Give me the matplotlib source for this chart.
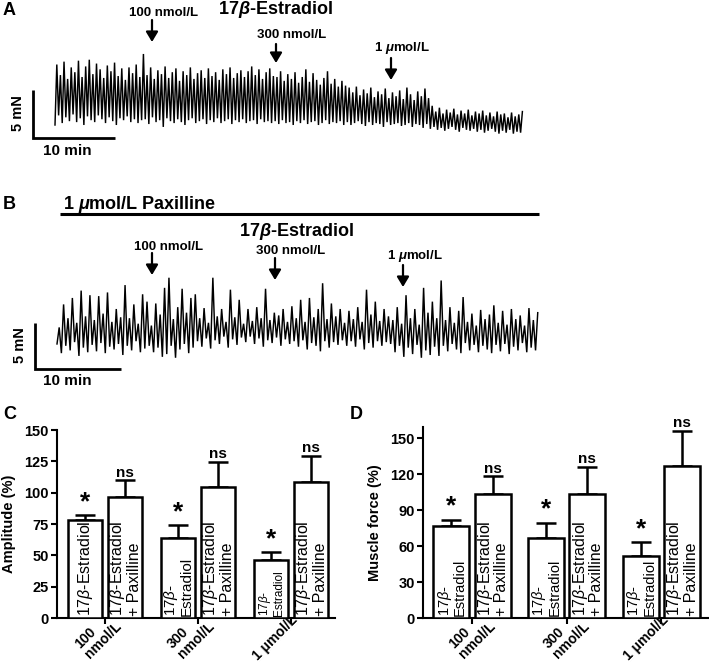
import numpy as np
import matplotlib
matplotlib.use('Agg')
import matplotlib.pyplot as plt
from matplotlib.transforms import ScaledTranslation, blended_transform_factory

plt.rcParams['font.family'] = ['Liberation Sans', 'DejaVu Sans']
plt.rcParams['mathtext.fontset'] = 'custom'
plt.rcParams['mathtext.rm'] = 'Liberation Sans'
plt.rcParams['mathtext.it'] = 'Liberation Sans:italic'
plt.rcParams['mathtext.bf'] = 'Liberation Sans:bold:italic'

# ---------------- data ----------------
# Trace A: alternating troughs / peaks (mN above baseline), 57 min recording
durA = 57.0
peaksA = [6.3, 5.2, 6.6, 4.8, 6.0, 5.5, 6.7, 5.0, 6.1, 6.8, 5.3, 6.4, 5.8, 4.9, 6.2, 5.6, 6.5, 5.1, 5.9, 4.7, 6.0, 5.4, 6.3, 5.0, 7.4,
          5.2, 6.0, 4.8, 5.7, 5.3, 6.1, 4.9, 5.5, 5.9, 4.6, 5.6, 5.2, 6.0, 4.8, 5.4, 5.7, 4.9, 5.9, 5.1, 5.5, 4.7, 5.8, 5.3, 6.0, 4.9, 5.4, 5.7, 5.0, 5.6, 6.1, 5.2, 5.8, 4.8, 5.5, 5.9, 5.1,
          5.0, 5.6, 4.6, 5.3, 4.8, 5.5, 4.4, 5.0, 5.8, 4.5, 5.4, 4.7, 4.2, 4.9, 5.6, 4.3, 4.8, 4.0, 4.6, 4.1,
          3.9, 3.4, 4.0, 3.1, 3.7, 3.3, 3.9, 2.9, 3.5, 3.2, 3.8, 2.8, 3.4, 3.0, 3.6, 2.7, 3.9, 3.2, 2.6, 3.5, 3.0, 3.8, 2.8,
          2.0, 1.4, 1.8, 1.2, 1.6, 1.3, 1.7, 1.1, 1.5, 1.2, 1.6, 1.0, 1.4, 1.2, 1.5, 1.0, 1.3, 0.9, 1.4, 1.1, 1.2, 0.8, 1.3, 0.9, 1.1, 1.4]
troughsA = [0.0, 1.0, 0.2, 0.8, 0.4, 1.1, 0.3, 0.7, 0.0, 0.9, 0.5, 0.3, 1.0, 0.6, 0.2, 0.8, 0.4, 0.0, 0.7, 0.5, 0.9, 0.3, 0.6, 0.2, 0.5,
            0.6, 0.1, 0.8, 0.3, 0.5, -0.2, 0.7, 0.4, 0.2, 0.6, 0.3, 0.0, 0.5, 0.7, 0.2, 0.4, 0.6, 0.1, 0.5, 0.3, 0.7, 0.2, 0.4, 0.6, 0.1, 0.5, 0.3, 0.6, 0.2, 0.4, 0.5, 0.1, 0.6, 0.3, 0.4, 0.2,
            0.4, 0.1, 0.5, 0.2, 0.3, 0.0, 0.4, 0.2, 0.5, 0.1, 0.3, 0.4, 0.0, 0.2, 0.5, 0.1, 0.3, 0.2, 0.4, 0.0,
            0.3, 0.0, 0.2, 0.4, 0.1, -0.1, 0.3, 0.0, 0.2, 0.1, -0.2, 0.3, 0.0, 0.1, 0.2, -0.1, 0.0, 0.2, -0.2, 0.1, 0.0, -0.3, 0.1,
            -0.4, -0.2, -0.5, -0.3, -0.6, -0.4, -0.2, -0.5, -0.7, -0.3, -0.5, -0.6, -0.4, -0.7, -0.5, -0.8, -0.6, -0.4, -0.7, -0.9, -0.6, -0.8, -0.5, -0.9, -0.7, -0.8]

# Trace B (with paxilline): 56 min recording
durB = 55.9
peaksB = [3.0, 5.5, 4.0, 6.2, 3.5, 7.0, 4.2, 6.5, 3.8, 6.4,
          4.5, 6.8, 3.6, 5.0, 4.1, 7.6, 4.0, 5.5, 3.4, 6.6, 5.8,
          3.2, 5.6, 4.4, 7.3, 8.4, 3.9, 5.2, 7.2, 4.6, 6.2, 6.6,
          4.0, 5.1, 3.5, 8.4, 4.2, 5.0, 3.6, 7.1, 4.1, 6.0, 3.4,
          5.0, 3.7, 5.2, 4.0, 7.2, 3.8, 4.6, 4.3, 5.0, 3.6, 5.3,
          4.0, 6.0, 3.6, 6.2, 4.1, 5.0, 7.8, 3.9, 5.6, 4.2, 5.0,
          3.5, 4.8, 3.9, 5.2, 3.6, 7.1, 4.4, 5.8, 3.7, 5.0, 4.2,
          3.8, 5.2, 3.4, 6.5, 4.0, 5.0, 3.3, 7.3, 4.6, 5.8, 4.0, 8.1,
          3.8, 5.2, 3.5, 4.8, 6.3, 3.6, 4.5, 3.2, 4.9, 3.9, 4.4,
          5.4, 3.5, 4.8, 3.3, 5.0, 3.9, 4.3, 3.2, 5.1, 3.8, 4.6]
troughsB = [1.2, 0.2, 1.0, 0.5, 1.4, -0.1, 0.8, 0.3, 1.1, 0.4,
            1.3, 0.2, 0.9, 0.6, 1.2, 0.0, 1.0, 0.5, 1.5, 0.3, 0.7,
            1.0, 0.3, 0.8, -0.2, 0.1, 1.0, -0.3, 0.6, 1.2, 0.2, 0.8,
            1.5, 0.9, 1.8, 0.7, 1.6, 1.2, 2.0, 0.8, 1.7, 1.1, 1.9,
            1.4, 2.0, 1.2, 1.8, 0.9, 1.6, 1.3, 1.9, 1.0, 1.7, 1.2,
            1.5, 0.9, 1.6, 0.6, 1.3, 1.0, 0.4, 1.5, 0.8, 1.4, 1.1,
            1.6, 1.0, 1.5, 0.9, 1.7, 0.6, 1.3, 0.8, 1.5, 1.0, 1.4,
            1.2, 0.3, 1.0, -0.2, 0.8, 0.1, 1.1, -0.3, 0.5, 0.0, 0.9, -0.1,
            1.0, 0.4, 1.2, 0.6, 0.2, 1.3, 0.5, 1.1, 0.3, 1.0, 0.6,
            0.2, 1.1, 0.4, 1.2, 0.1, 0.9, 0.5, 1.3, 0.3, 0.8, 0.5]

doses = ['100 nmol/L', '300 nmol/L', '1 $\\mathbf{\\mu}$mol/L']
group_labels = ['100\nnmol/L', '300\nnmol/L', '1 \u03bcmol/L']

amp_e2 = [78, 64, 46]
amp_e2_err = [4, 10, 6.5]
amp_pax = [96.5, 104.5, 108.5]
amp_pax_err = [13.5, 20, 21]

force_e2 = [77, 67, 52]
force_e2_err = [5, 12.5, 11]
force_pax = [103, 103, 127]
force_pax_err = [15, 23, 29]

# ---------------- figure ----------------
W, H = 709, 663
fig = plt.figure(figsize=(W / 100, H / 100), dpi=100)


def box(x0, y0, x1, y1):
    return [x0 / W, 1 - y1 / H, (x1 - x0) / W, (y1 - y0) / H]


def trace_axes(y0, y1, x_start, px_per_min, y_base, px_per_mN):
    ax = fig.add_axes(box(0, y0, W, y1))
    ax.set_xlim(-x_start / px_per_min, (W - x_start) / px_per_min)
    ax.set_ylim((y_base - y1) / px_per_mN, (y_base - y0) / px_per_mN)
    ax.axis('off')
    return ax


def draw_trace(ax, dur, troughs, peaks):
    y = np.empty(2 * len(peaks))
    y[0::2] = troughs
    y[1::2] = peaks
    t = np.linspace(0, dur, len(y))
    ax.plot(t, y, color='black', lw=1.05, solid_joinstyle='miter')


def scale_bar(ax, t0, v0):
    ax.plot([t0, t0, t0 + 10], [v0 + 5, v0, v0], color='black', lw=2.0,
            solid_capstyle='butt', solid_joinstyle='miter')


# Trace A: 8.2 px/min, 9.6 px/mN, start x=55, baseline y=125
axA = trace_axes(0, 170, 55, 8.2, 125, 9.6)
draw_trace(axA, durA, troughsA, peaksA)
scale_bar(axA, (33 - 55) / 8.2, (125 - 138) / 9.6)

# Trace B: 8.6 px/min, 9.2 px/mN, start x=57, baseline y=355
axB = trace_axes(170, 400, 57, 8.6, 355, 9.2)
draw_trace(axB, durB, troughsB, peaksB)
scale_bar(axB, (35 - 57) / 8.6, (355 - 369) / 9.2)

# overlay for annotations (pixel coordinates)
ov = fig.add_axes([0, 0, 1, 1], zorder=5)
ov.set_xlim(0, W)
ov.set_ylim(H, 0)
ov.axis('off')

bold = dict(fontweight='bold', color='black')


def arrow(x, y0, y1):
    ov.annotate('', xy=(x, y1), xytext=(x, y0),
                arrowprops=dict(arrowstyle='-|>,head_width=0.36,head_length=0.6',
                                lw=1.6, color='black', shrinkA=0, shrinkB=0,
                                mutation_scale=10))


# Panel A
ov.text(3, 15, 'A', fontsize=13, ha='left', va='baseline', **bold)
ov.text(275, 14, '17$\\mathbf{\\beta}$-Estradiol', fontsize=13, ha='center', va='baseline', **bold)
for (tx, ty), ax_, (y0, y1), lab in zip([(164, 16.5), (292, 38), (402, 51)],
                                        [152, 276, 391],
                                        [(20, 42), (44, 63), (58, 80)], doses):
    ov.text(tx, ty, lab, fontsize=9.5, ha='center', va='baseline', **bold)
    arrow(ax_, y0, y1)
ov.text(18, 113, '5 mN', fontsize=10.5, rotation=90, ha='center', va='center', **bold)
ov.text(43, 151, '10 min', fontsize=11, ha='left', va='center', **bold)

# Panel B
ov.text(3, 209, 'B', fontsize=13, ha='left', va='baseline', **bold)
ov.text(63, 209, '1 $\\mathbf{\\mu}$mol/L Paxilline', fontsize=13, ha='left', va='baseline', **bold)
ov.plot([60, 539], [214, 214], color='black', lw=2.2, solid_capstyle='butt')
ov.text(296, 236, '17$\\mathbf{\\beta}$-Estradiol', fontsize=13, ha='center', va='baseline', **bold)
for (tx, ty), ax_, (y0, y1), lab in zip([(169, 250.5), (291, 254.5), (415, 259.5)],
                                        [152, 275, 403],
                                        [(253, 275), (258, 280), (265, 287)], doses):
    ov.text(tx, ty, lab, fontsize=9.5, ha='center', va='baseline', **bold)
    arrow(ax_, y0, y1)
ov.text(20, 345, '5 mN', fontsize=10.5, rotation=90, ha='center', va='center', **bold)
ov.text(43, 381, '10 min', fontsize=11, ha='left', va='center', **bold)

# Panel letters C, D
ov.text(3, 419, 'C', fontsize=13, ha='left', va='baseline', **bold)
ov.text(350, 419, 'D', fontsize=13, ha='left', va='baseline', **bold)


def bar_panel(rect, px_group, off, width, e2, e2err, pax, paxerr, ylim, yticks, ylabel,
              e2_texts, e2_sizes, pax_size, label_dx, label_dy):
    ax = fig.add_axes(rect)
    g = np.arange(len(e2))
    x1 = g - off
    x2 = g + off
    ax.bar(x1, e2, width=width, color='white', edgecolor='black', lw=1.8, zorder=3)
    ax.bar(x2, pax, width=width, color='white', edgecolor='black', lw=1.8, zorder=3)
    zeros = np.zeros(len(e2))
    ax.errorbar(x1, e2, yerr=[zeros, e2err], fmt='none', ecolor='black',
                elinewidth=1.8, capsize=7, capthick=1.8, zorder=2)
    ax.errorbar(x2, pax, yerr=[zeros, paxerr], fmt='none', ecolor='black',
                elinewidth=1.8, capsize=7, capthick=1.8, zorder=2)
    ax.set_ylim(*ylim)
    ax.set_xlim(*px_group)
    ax.set_yticks(yticks)
    ax.set_yticklabels([str(v) for v in yticks], fontsize=10.5, fontweight='bold')
    ax.set_xticks(g)
    ax.set_xticklabels([])
    ax.tick_params(axis='both', direction='out', length=4, width=1.5, pad=2)
    for s in ['top', 'right']:
        ax.spines[s].set_visible(False)
    for s in ['left', 'bottom']:
        ax.spines[s].set_linewidth(1.5)
    ax.set_ylabel(ylabel, fontsize=10.5, fontweight='bold', labelpad=6)
    # significance marks
    for xi, v, e in zip(x1, e2, e2err):
        ax.annotate('*', (xi, v + e), xytext=(0, 18), textcoords='offset points',
                    ha='center', va='top', fontsize=19, fontweight='bold')
    for xi, v, e in zip(x2, pax, paxerr):
        ax.annotate('ns', (xi, v + e), xytext=(0, 2.5), textcoords='offset points',
                    ha='center', va='baseline', fontsize=11, fontweight='bold')
    # in-bar texts
    tr_bottom = blended_transform_factory(ax.transData, ax.transAxes)
    for xi, t, fs in zip(x1, e2_texts, e2_sizes):
        ax.text(xi, 0.008, t, transform=tr_bottom, rotation=90, ha='center', va='bottom',
                multialignment='left', fontsize=fs, linespacing=0.95, zorder=4)
    for xi in x2:
        ax.text(xi, 0.008, '17$\\beta$-Estradiol\n+ Paxilline', transform=tr_bottom,
                rotation=90, ha='center', va='bottom', multialignment='left',
                fontsize=pax_size, linespacing=0.95, zorder=4)
    # group labels, rotated 45 degrees below the axis
    for gi, lab, dx, dy in zip(g, group_labels, label_dx, label_dy):
        ax.text(gi, 0, lab,
                transform=tr_bottom + ScaledTranslation(dx / 100, dy / 100, fig.dpi_scale_trans),
                rotation=45, ha='right', va='top', multialignment='left',
                fontsize=10, fontweight='bold', linespacing=1.0)
    return ax


e2_c = ['17$\\beta$-Estradiol', '17$\\beta$-\nEstradiol', '17$\\beta$-\nEstradiol']
e2_d = ['17$\\beta$-\nEstradiol', '17$\\beta$-\nEstradiol', '17$\\beta$-\nEstradiol']

bar_panel(box(57, 430, 335, 618), ((57 - 105) / 93, (335 - 105) / 93), 0.215, 0.37,
          amp_e2, amp_e2_err, amp_pax, amp_pax_err, (0, 150), [0, 25, 50, 75, 100, 125, 150],
          'Amplitude (%)', e2_c, [11.5, 11, 8.5], 11.5, [19, 19, 9], [9, 9, 5])

bar_panel(box(423, 427, 708, 618), ((423 - 472) / 94.7, (708 - 472) / 94.7), 0.217, 0.38,
          force_e2, force_e2_err, force_pax, force_pax_err, (0, 191 / 1.2), [0, 30, 60, 90, 120, 150],
          'Muscle force (%)', e2_d, [10.5, 10.5, 10.5], 11.5, [26, 26, 10], [9, 9, 5])

fig.savefig('out.png', dpi=100)
